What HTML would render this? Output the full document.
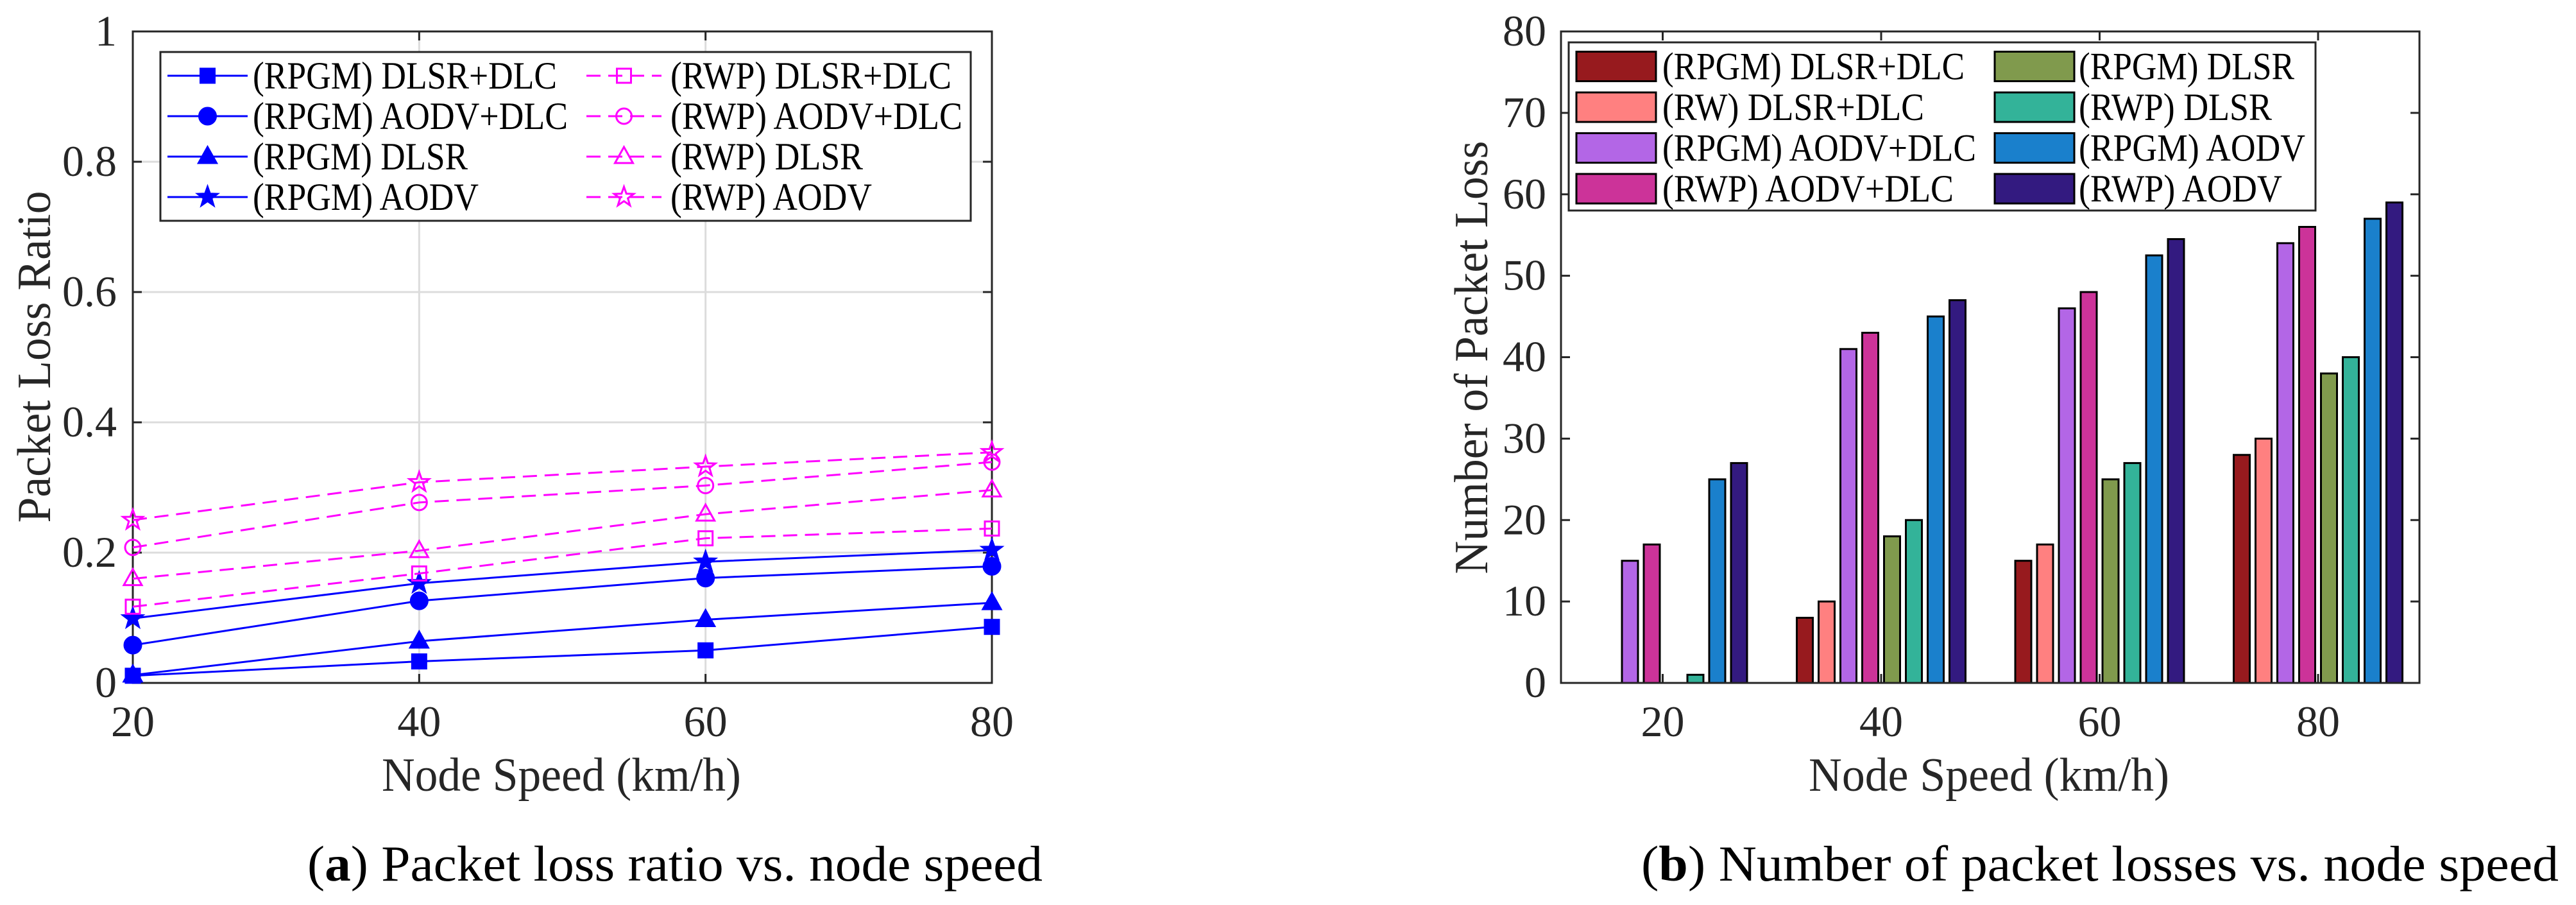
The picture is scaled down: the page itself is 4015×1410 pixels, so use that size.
<!DOCTYPE html>
<html><head><meta charset="utf-8"><style>
html,body{margin:0;padding:0;background:#fff;font-family:"Liberation Serif","Times New Roman","DejaVu Serif",serif}
svg{display:block}
svg text{font-family:"Liberation Serif","Times New Roman","DejaVu Serif",serif}
</style></head><body>
<svg id="svg" width="4015" height="1410" viewBox="0 0 4015 1410" xmlns="http://www.w3.org/2000/svg" font-family="Liberation Serif, Times New Roman, serif">
<g id="left"></g>
<g id="right"></g>
<text x="479" y="1372" font-size="78" textLength="1146" lengthAdjust="spacingAndGlyphs" fill="#000">(<tspan font-weight="bold">a</tspan>) Packet loss ratio vs. node speed</text>
<text x="2558" y="1372" font-size="78" textLength="1430" lengthAdjust="spacingAndGlyphs" fill="#000">(<tspan font-weight="bold">b</tspan>) Number of packet losses vs. node speed</text>
</svg>
<script>
// ---- Left chart data ----
const speeds = [20, 40, 60, 80];
const lineNames = ["(RPGM) DLSR+DLC","(RPGM) AODV+DLC","(RPGM) DLSR","(RPGM) AODV","(RWP) DLSR+DLC","(RWP) AODV+DLC","(RWP) DLSR","(RWP) AODV"];
const rpgmDlsrDlc = [0.011, 0.033, 0.050, 0.086];
const rpgmAodvDlc = [0.058, 0.126, 0.161, 0.179];
const rpgmDlsr = [0.012, 0.064, 0.097, 0.123];
const rpgmAodv = [0.099, 0.153, 0.186, 0.204];
const rwpDlsrDlc = [0.117, 0.168, 0.222, 0.237];
const rwpAodvDlc = [0.208, 0.277, 0.303, 0.339];
const rwpDlsr = [0.160, 0.203, 0.259, 0.296];
const rwpAodv = [0.250, 0.308, 0.332, 0.354];
const yTicksLeft = [0, 0.2, 0.4, 0.6, 0.8, 1];
const yTickLabelsLeft = ["0","0.2","0.4","0.6","0.8","1"];
// ---- Right chart data ----
const groups = ["20","40","60","80"];
const barNames = ["(RPGM) DLSR+DLC","(RW) DLSR+DLC","(RPGM) AODV+DLC","(RWP) AODV+DLC","(RPGM) DLSR","(RWP) DLSR","(RPGM) AODV","(RWP) AODV"];
const barRpgmDlsrDlc = [0, 8, 15, 28];
const barRwDlsrDlc = [0, 10, 17, 30];
const barRpgmAodvDlc = [15, 41, 46, 54];
const barRwpAodvDlc = [17, 43, 48, 56];
const barRpgmDlsr = [0, 18, 25, 38];
const barRwpDlsr = [1, 20, 27, 40];
const barRpgmAodv = [25, 45, 52.5, 57];
const barRwpAodv = [27, 47, 54.5, 59];
const yTicksRight = [0,10,20,30,40,50,60,70,80];

const NS="http://www.w3.org/2000/svg";
const FF="Liberation Serif, Times New Roman, DejaVu Serif, serif";
function mk(parent, tag, attrs, text){
  const e=document.createElementNS(NS,tag);
  for(const k in attrs) e.setAttribute(k,attrs[k]);
  if(tag==='text') e.setAttribute('font-family',FF);
  if(text!==undefined) e.textContent=text;
  parent.appendChild(e); return e;
}
document.querySelectorAll('text').forEach(t=>t.setAttribute('font-family',FF));
const AX="#262626";
// ===== LEFT =====
const L=document.getElementById('left');
const lx0=207,lx1=1546,ly0=1064,ly1=49;
const lxs=v=>lx0+(v-20)/60*(lx1-lx0);
const lys=v=>ly0-v*(ly0-ly1);
yTicksLeft.forEach((t,i)=>{
  const y=lys(t);
  if(i>0&&i<yTicksLeft.length-1){const g=mk(L,'line',{x1:lx0,x2:lx1,y1:y,y2:y,stroke:'#dcdcdc','stroke-width':3});
    
    }
  const tk=mk(L,'text',{x:182,y:y+22,'font-size':68,'text-anchor':'end',fill:AX},yTickLabelsLeft[i]);
  
  
  mk(L,'line',{x1:lx0,x2:lx0+14,y1:y,y2:y,stroke:AX,'stroke-width':3});
  mk(L,'line',{x1:lx1,x2:lx1-14,y1:y,y2:y,stroke:AX,'stroke-width':3});
});
speeds.forEach((s,i)=>{
  const x=lxs(s);
  if(i>0&&i<speeds.length-1){const g=mk(L,'line',{x1:x,x2:x,y1:ly0,y2:ly1,stroke:'#dcdcdc','stroke-width':3});
    
    }
  const tk=mk(L,'text',{x:x,y:1147,'font-size':68,'text-anchor':'middle',fill:AX},String(s));
  
  
  mk(L,'line',{x1:x,x2:x,y1:ly0,y2:ly0-14,stroke:AX,'stroke-width':3});
  mk(L,'line',{x1:x,x2:x,y1:ly1,y2:ly1+14,stroke:AX,'stroke-width':3});
});
const lbox=mk(L,'rect',{x:lx0,y:ly1,width:lx1-lx0,height:ly0-ly1,fill:'none',stroke:AX,'stroke-width':3});


const lxt=mk(L,'text',{x:875,y:1232,'font-size':74,'text-anchor':'middle',textLength:560,lengthAdjust:'spacingAndGlyphs',fill:AX},'Node Speed (km/h)');


const lyt=mk(L,'text',{x:0,y:0,'font-size':74,'text-anchor':'middle',textLength:517,lengthAdjust:'spacingAndGlyphs',fill:AX,transform:'translate(78,556) rotate(-90)'},'Packet Loss Ratio');



function star(cx,cy,r){let p=[];for(let k=0;k<10;k++){const a=-Math.PI/2+k*Math.PI/5;const rr=k%2?r*0.4:r;p.push((cx+rr*Math.cos(a)).toFixed(1)+','+(cy+rr*Math.sin(a)).toFixed(1));}return p.join(' ');}
function marker(g,type,x,y,color,filled){
  const f=filled?color:'none';const sw=3;
  if(type==='sq') return mk(g,'rect',{x:x-11,y:y-11,width:22,height:22,fill:f,stroke:color,'stroke-width':sw});
  if(type==='ci') return mk(g,'circle',{cx:x,cy:y,r:filled?13:12,fill:f,stroke:color,'stroke-width':sw});
  if(type==='tr') return mk(g,'polygon',{points:`${x},${y-15} ${x+14},${y+10} ${x-14},${y+10}`,fill:f,stroke:color,'stroke-width':sw});
  return mk(g,'polygon',{points:star(x,y,16),fill:f,stroke:color,'stroke-width':sw});
}
const lineSeries=[rpgmDlsrDlc,rpgmAodvDlc,rpgmDlsr,rpgmAodv,rwpDlsrDlc,rwpAodvDlc,rwpDlsr,rwpAodv];
const mtypes=['sq','ci','tr','st','sq','ci','tr','st'];
lineSeries.forEach((arr,si)=>{
  const blue=si<4;const color=blue?'#0000ff':'#ff00ff';
  const g=mk(L,'g',{});
  
  
  const pts=arr.map((v,i)=>lxs(speeds[i])+','+lys(v)).join(' ');
  mk(g,'polyline',{points:pts,fill:'none',stroke:color,'stroke-width':3,'stroke-dasharray':blue?'none':'22 12'});
  arr.forEach((v,i)=>{const m=marker(g,mtypes[si],lxs(speeds[i]),lys(v),color,blue);
    
    });
});
// legend left
const lg=mk(L,'g',{});


mk(lg,'rect',{x:250,y:81,width:1263,height:263,fill:'#fff',stroke:AX,'stroke-width':3});
const lLens=[474,491,335,352,438,455,300,314];
lineNames.forEach((n,i)=>{
  const col=i<4?0:1,row=i%4;const y=118+row*63;
  const x0=col?914:261,x1=col?1031:386,tx=col?1045:394;
  const blue=i<4;const color=blue?'#0000ff':'#ff00ff';
  const e=mk(lg,'g',{});
  
  
  mk(e,'line',{x1:x0,x2:x1,y1:y,y2:y,stroke:color,'stroke-width':3,'stroke-dasharray':blue?'none':'22 12'});
  marker(e,mtypes[i],(x0+x1)/2,y,color,blue);
  mk(e,'text',{x:tx,y:y+20,'font-size':60,fill:'#000',textLength:lLens[i],lengthAdjust:'spacingAndGlyphs'},n);
});

// ===== RIGHT =====
const R=document.getElementById('right');
const rx0=2433,rx1=3771,ry0=1064,ry1=49;
const gx=i=>2591.5+i*340.5;
const rys=v=>ry0-v/80*(ry0-ry1);
const colors=['#971a1e','#ff8080','#b366e6','#cc3399','#809a4d','#33b399','#1a80cc','#331a80'];
const barSeries=[barRpgmDlsrDlc,barRwDlsrDlc,barRpgmAodvDlc,barRwpAodvDlc,barRpgmDlsr,barRwpDlsr,barRpgmAodv,barRwpAodv];
barSeries.forEach((arr,si)=>{
  const g=mk(R,'g',{});
  
  
  arr.forEach((v,i)=>{
    const cx=gx(i)+(si-3.5)*34;const y=rys(v);
    const b=mk(g,'rect',{x:cx-12.5,y:y,width:25,height:Math.max(0,ry0-y),fill:colors[si],stroke:'#000','stroke-width':3});
    
    
  });
});
yTicksRight.forEach(t=>{
  const y=rys(t);
  const tk=mk(R,'text',{x:2410,y:y+22,'font-size':68,'text-anchor':'end',fill:AX},String(t));
  
  
  mk(R,'line',{x1:rx0,x2:rx0+14,y1:y,y2:y,stroke:AX,'stroke-width':3});
  mk(R,'line',{x1:rx1,x2:rx1-14,y1:y,y2:y,stroke:AX,'stroke-width':3});
});
groups.forEach((s,i)=>{
  const x=gx(i);
  const tk=mk(R,'text',{x:x,y:1147,'font-size':68,'text-anchor':'middle',fill:AX},s);
  
  
  mk(R,'line',{x1:x,x2:x,y1:ry0,y2:ry0-14,stroke:AX,'stroke-width':3});
  mk(R,'line',{x1:x,x2:x,y1:ry1,y2:ry1+14,stroke:AX,'stroke-width':3});
});
const rbox=mk(R,'rect',{x:rx0,y:ry1,width:rx1-rx0,height:ry0-ry1,fill:'none',stroke:AX,'stroke-width':3});


const rxt=mk(R,'text',{x:3100,y:1232,'font-size':74,'text-anchor':'middle',textLength:562,lengthAdjust:'spacingAndGlyphs',fill:AX},'Node Speed (km/h)');


const ryt=mk(R,'text',{x:0,y:0,'font-size':74,'text-anchor':'middle',textLength:675,lengthAdjust:'spacingAndGlyphs',fill:AX,transform:'translate(2318,557) rotate(-90)'},'Number of Packet Loss');


const rg=mk(R,'g',{});


mk(rg,'rect',{x:2445,y:66,width:1164,height:262,fill:'#fff',stroke:AX,'stroke-width':3});
const rLens=[471,408,489,454,336,301,353,317];
const legOrder=[0,1,2,3,4,5,6,7];
legOrder.forEach((si,i)=>{
  const col=i<4?0:1,row=i%4;const yc=103.5+row*63.5;
  const sx=col?3109:2457,tx=col?3240:2591;
  const e=mk(rg,'g',{});
  
  
  mk(e,'rect',{x:sx,y:yc-23,width:124,height:46,fill:colors[si],stroke:'#000','stroke-width':3});
  mk(e,'text',{x:tx,y:yc+20,'font-size':60,fill:'#000',textLength:rLens[si],lengthAdjust:'spacingAndGlyphs'},barNames[si]);
});
</script>
</body></html>
